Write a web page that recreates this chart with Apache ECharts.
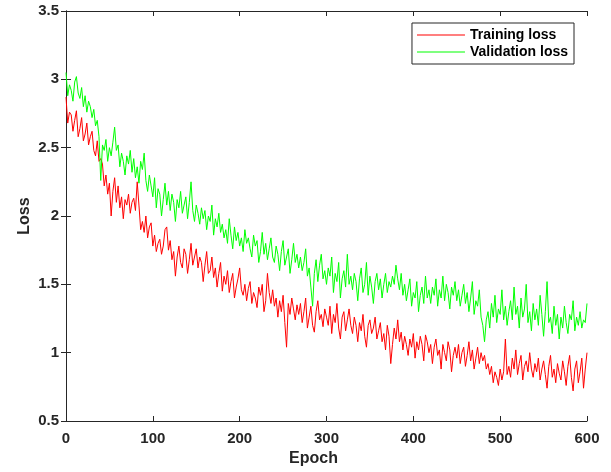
<!DOCTYPE html>
<html>
<head>
<meta charset="utf-8">
<script src="https://cdn.jsdelivr.net/npm/echarts@6/dist/echarts.min.js"></script>
<style>
  html, body { margin: 0; padding: 0; background: #fff; }
  #chart { width: 611px; height: 472px; }
</style>
</head>
<body>
<div id="chart"></div>
<script>
// one value every 2 epochs
const epochStep = 2;

const trainingLoss = [
  2.87, 2.68, 2.76, 2.74, 2.62, 2.70, 2.77, 2.58, 2.64, 2.72, 2.55, 2.60, 2.68, 2.52, 2.58,
  2.62, 2.48, 2.44, 2.55, 2.40, 2.42, 2.38, 2.22, 2.30, 2.16, 2.24, 2.00, 2.18, 2.28, 2.10,
  2.22, 2.06, 2.14, 1.98, 2.12, 2.08, 2.16, 2.02, 2.10, 2.13, 2.04, 2.25, 2.08, 1.90, 1.96,
  1.88, 2.00, 1.84, 1.92, 1.95, 1.78, 1.86, 1.74, 1.80, 1.83, 1.72, 1.78, 1.90, 1.92, 1.75,
  1.82, 1.68, 1.74, 1.56, 1.70, 1.78, 1.66, 1.62, 1.76, 1.72, 1.58, 1.68, 1.80, 1.64, 1.70,
  1.76, 1.62, 1.70, 1.66, 1.52, 1.64, 1.74, 1.58, 1.60, 1.70, 1.55, 1.62, 1.48, 1.58, 1.66,
  1.45, 1.56, 1.50, 1.60, 1.44, 1.52, 1.58, 1.40, 1.48, 1.54, 1.62, 1.46, 1.42, 1.50, 1.38,
  1.47, 1.52, 1.36, 1.44, 1.40, 1.33, 1.48, 1.42, 1.50, 1.30, 1.38, 1.58, 1.44, 1.36, 1.46,
  1.34, 1.40, 1.26, 1.38, 1.30, 1.42, 1.22, 1.04, 1.36, 1.28, 1.40, 1.32, 1.24, 1.35, 1.28,
  1.36, 1.22, 1.30, 1.40, 1.18, 1.26, 1.34, 1.20, 1.15, 1.30, 1.38, 1.24, 1.28, 1.19, 1.32,
  1.26, 1.20, 1.34, 1.14, 1.28, 1.22, 1.36, 1.18, 1.10, 1.26, 1.30, 1.16, 1.24, 1.32, 1.20,
  1.14, 1.26, 1.20, 1.08, 1.22, 1.16, 1.28, 1.12, 1.04, 1.20, 1.24, 1.14, 1.18, 1.26, 1.10,
  1.16, 1.22, 1.08, 1.14, 1.02, 1.20, 1.12, 0.92, 1.06, 1.18, 1.10, 1.24, 1.08, 1.15, 1.02,
  1.12, 1.06, 0.98, 1.10, 1.04, 1.14, 0.96, 1.08, 1.02, 1.12, 1.06, 0.94, 1.13, 1.08, 1.00,
  1.06, 0.92, 1.04, 1.10, 0.98, 1.02, 0.88, 1.06, 1.00, 0.94, 1.08, 1.02, 0.86, 0.98, 1.04,
  0.96, 1.06, 0.92, 1.00, 1.04, 0.90, 0.98, 1.08, 0.94, 1.02, 0.88, 0.96, 1.04, 0.92, 1.00,
  0.94, 0.98, 0.88, 0.92, 0.84, 0.90, 0.78, 0.86, 0.82, 0.76, 0.88, 0.80, 0.86, 1.10, 0.84,
  0.90, 0.82, 0.96, 0.88, 1.02, 0.84, 0.92, 0.98, 0.80, 0.90, 0.94, 0.86, 1.00, 0.88, 0.82,
  0.92, 0.86, 0.96, 0.80, 0.88, 0.94, 0.84, 0.74, 0.90, 0.98, 0.82, 0.88, 0.78, 0.92, 0.85,
  0.80, 0.94, 0.86, 0.76, 0.90, 0.98, 0.82, 0.72, 0.88, 0.94, 0.78, 0.86, 0.96, 0.74, 0.88,
  1.00
];

const validationLoss = [
  3.05, 2.88, 2.96, 2.92, 2.84, 2.98, 3.02, 2.90, 2.86, 2.94, 2.80, 2.88, 2.76, 2.84, 2.80,
  2.72, 2.78, 2.66, 2.70, 2.58, 2.26, 2.52, 2.48, 2.56, 2.40, 2.50, 2.44, 2.54, 2.65, 2.48,
  2.52, 2.36, 2.46, 2.40, 2.30, 2.44, 2.38, 2.48, 2.32, 2.42, 2.28, 2.36, 2.24, 2.40, 2.34,
  2.46, 2.26, 2.18, 2.30, 2.22, 2.14, 2.28, 2.06, 2.20, 2.16, 2.00, 2.12, 2.24, 2.08, 2.18,
  2.04, 2.16, 2.10, 1.96, 2.12, 2.06, 2.18, 2.02, 2.08, 2.14, 1.98, 2.10, 2.25, 2.04, 1.96,
  2.08, 2.02, 1.94, 2.06, 1.98, 2.04, 1.90, 2.00, 1.96, 2.08, 1.86, 1.98, 1.92, 2.02, 1.88,
  1.94, 1.84, 1.90, 1.80, 1.98, 1.86, 1.76, 1.92, 1.82, 1.88, 1.78, 1.84, 1.74, 1.90, 1.80,
  1.84, 1.76, 1.70, 1.86, 1.78, 1.82, 1.66, 1.74, 1.88, 1.72, 1.80, 1.68, 1.76, 1.84, 1.70,
  1.66, 1.78, 1.72, 1.60, 1.74, 1.82, 1.64, 1.70, 1.76, 1.58, 1.68, 1.80, 1.66, 1.72, 1.62,
  1.70, 1.60, 1.66, 1.76, 1.56, 1.62, 1.48, 1.34, 1.58, 1.68, 1.52, 1.64, 1.72, 1.54, 1.60,
  1.50, 1.62, 1.56, 1.70, 1.44, 1.58, 1.52, 1.66, 1.40, 1.54, 1.60, 1.48, 1.72, 1.50, 1.56,
  1.46, 1.58, 1.52, 1.38, 1.54, 1.62, 1.44, 1.50, 1.66, 1.42, 1.56, 1.48, 1.36, 1.52, 1.58,
  1.46, 1.54, 1.40, 1.50, 1.58, 1.44, 1.52, 1.48, 1.56, 1.50, 1.64, 1.54, 1.46, 1.58, 1.42,
  1.50, 1.38, 1.46, 1.54, 1.34, 1.44, 1.40, 1.52, 1.30, 1.42, 1.48, 1.36, 1.56, 1.40, 1.46,
  1.36, 1.48, 1.42, 1.54, 1.34, 1.46, 1.40, 1.56, 1.38, 1.50, 1.44, 1.32, 1.48, 1.42, 1.52,
  1.38, 1.46, 1.34, 1.42, 1.50, 1.36, 1.44, 1.30, 1.40, 1.52, 1.28, 1.38, 1.34, 1.46, 1.26,
  1.20, 1.08, 1.24, 1.30, 1.18, 1.36, 1.26, 1.42, 1.22, 1.32, 1.28, 1.46, 1.24, 1.34, 1.20,
  1.30, 1.38, 1.24, 1.48, 1.28, 1.34, 1.18, 1.40, 1.26, 1.32, 1.50, 1.22, 1.30, 1.16, 1.36,
  1.24, 1.32, 1.20, 1.42, 1.28, 1.12, 1.30, 1.52, 1.22, 1.26, 1.14, 1.34, 1.20, 1.28, 1.10,
  1.26, 1.18, 1.34, 1.22, 1.14, 1.28, 1.24, 1.38, 1.16, 1.26, 1.20, 1.30, 1.18, 1.24, 1.22,
  1.36
];

const xTicks = { min: 0, max: 600, interval: 100 };
const yTicks = { min: 0.5, max: 3.5, interval: 0.5 };

const toPairs = arr => arr.map((v, i) => [i * epochStep, v]);

const font = 'Arial, "Liberation Sans", Helvetica, sans-serif';
const ink = '#262626';

const boxAxis = {
  axisLine: { show: true, lineStyle: { color: ink, width: 1 } },
  axisTick: { show: true, inside: true, length: 5, lineStyle: { color: ink } },
  splitLine: { show: false },
};

let myChart = echarts.init(document.getElementById('chart'));
myChart.setOption({
  animation: false,
  backgroundColor: '#fff',
  textStyle: { fontFamily: font },
  grid: { left: 66, top: 11, right: 24, bottom: 49 },
  legend: {
    right: 37,
    top: 23,
    orient: 'vertical',
    backgroundColor: '#fff',
    borderColor: ink,
    borderWidth: 1,
    padding: [5, 6, 5, 5],
    itemGap: 3,
    icon: 'rect',
    itemWidth: 48,
    itemHeight: 1,
    itemStyle: { borderWidth: 0 },
    textStyle: { fontFamily: font, fontSize: 14, fontWeight: 'bold', color: '#000' },
    data: ['Training loss', 'Validation loss'],
  },
  xAxis: [{
    ...boxAxis,
    type: 'value',
    ...xTicks,
    name: 'Epoch',
    nameLocation: 'middle',
    nameGap: 30,
    nameMoveOverlap: false,
    nameTextStyle: { fontSize: 16, fontWeight: 'bold', color: ink, padding: [0, 26, 0, 0] },
    axisLabel: { fontSize: 15, fontWeight: 'bold', color: ink, margin: 10 },
  }, {
    ...boxAxis,
    type: 'value',
    position: 'top',
    ...xTicks,
    axisLabel: { show: false },
  }],
  yAxis: [{
    ...boxAxis,
    type: 'value',
    ...yTicks,
    name: 'Loss',
    nameLocation: 'middle',
    nameGap: 33,
    nameMoveOverlap: false,
    nameTextStyle: { fontSize: 16, fontWeight: 'bold', color: ink },
    axisLabel: { fontSize: 15, fontWeight: 'bold', color: ink, margin: 7 },
  }, {
    ...boxAxis,
    type: 'value',
    position: 'right',
    ...yTicks,
    axisLabel: { show: false },
  }],
  series: [{
    name: 'Training loss',
    type: 'line',
    data: toPairs(trainingLoss),
    symbol: 'none',
    color: '#ff0000',
    lineStyle: { width: 1, color: '#ff0000' },
  }, {
    name: 'Validation loss',
    type: 'line',
    data: toPairs(validationLoss),
    symbol: 'none',
    color: '#00ff00',
    lineStyle: { width: 1, color: '#00ff00' },
  }]
});
</script>
</body>
</html>
